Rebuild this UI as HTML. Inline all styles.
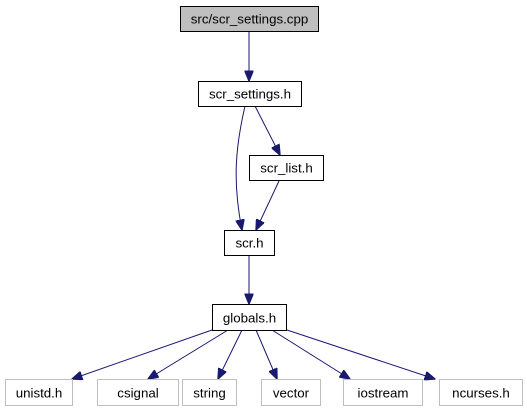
<!DOCTYPE html>
<html><head><style>
body{margin:0;background:#fff;width:527px;height:411px;overflow:hidden}
svg{display:block}
text{font-family:"Liberation Sans",Arial,sans-serif;font-size:13.3px;fill:#000}
</style></head><body>
<svg width="527" height="411" viewBox="0 0 527 411">
<defs><marker id="a" markerWidth="11" markerHeight="9" refX="10.5" refY="4.5" orient="auto" markerUnits="userSpaceOnUse"><path d="M0,0 L11,4.5 L0,9 Z" fill="#191970" stroke="#191970"/></marker></defs>
<g fill="none" stroke="#191970" stroke-width="1" marker-end="url(#a)">
<path d="M249,31 L249,81"/>
<path d="M245,106 C236,145 232,180 242,230"/>
<path d="M255,106 L280,155"/>
<path d="M279,181 L256,230"/>
<path d="M249,256 L249,304"/>
<path d="M212,330 L72,379"/>
<path d="M228,330 L148,379"/>
<path d="M242,330 L218,379"/>
<path d="M256,330 L277,379"/>
<path d="M272,330 L350,379"/>
<path d="M287,330 L435,379"/>
</g>
<g stroke="#000" stroke-width="1">
<rect x="180.5" y="6.5" width="138" height="25" fill="#bfbfbf"/>
<rect x="198.5" y="81.5" width="103" height="25" fill="#fff"/>
<rect x="249.5" y="155.5" width="74" height="25" fill="#fff"/>
<rect x="224.5" y="230.5" width="50" height="25" fill="#fff"/>
<rect x="212.5" y="304.5" width="74" height="26" fill="#fff"/>
</g>
<g stroke="#bfbfbf" stroke-width="1" fill="#fff">
<rect x="5.5" y="379.5" width="67" height="26"/>
<rect x="97.5" y="379.5" width="81" height="26"/>
<rect x="182.5" y="379.5" width="54" height="26"/>
<rect x="261.5" y="379.5" width="59" height="26"/>
<rect x="343.5" y="379.5" width="79" height="26"/>
<rect x="439.5" y="379.5" width="83" height="26"/>
</g>
<g text-anchor="middle">
<text x="249.5" y="23.5">src/scr_settings.cpp</text>
<text x="250" y="98.5">scr_settings.h</text>
<text x="286.5" y="172.5">scr_list.h</text>
<text x="249.5" y="247.5">scr.h</text>
<text x="249.5" y="322.5">globals.h</text>
<text x="39" y="397.5">unistd.h</text>
<text x="138" y="397.5">csignal</text>
<text x="209.5" y="397.5">string</text>
<text x="291" y="397.5">vector</text>
<text x="383" y="397.5">iostream</text>
<text x="481" y="397.5">ncurses.h</text>
</g>
</svg>
</body></html>
